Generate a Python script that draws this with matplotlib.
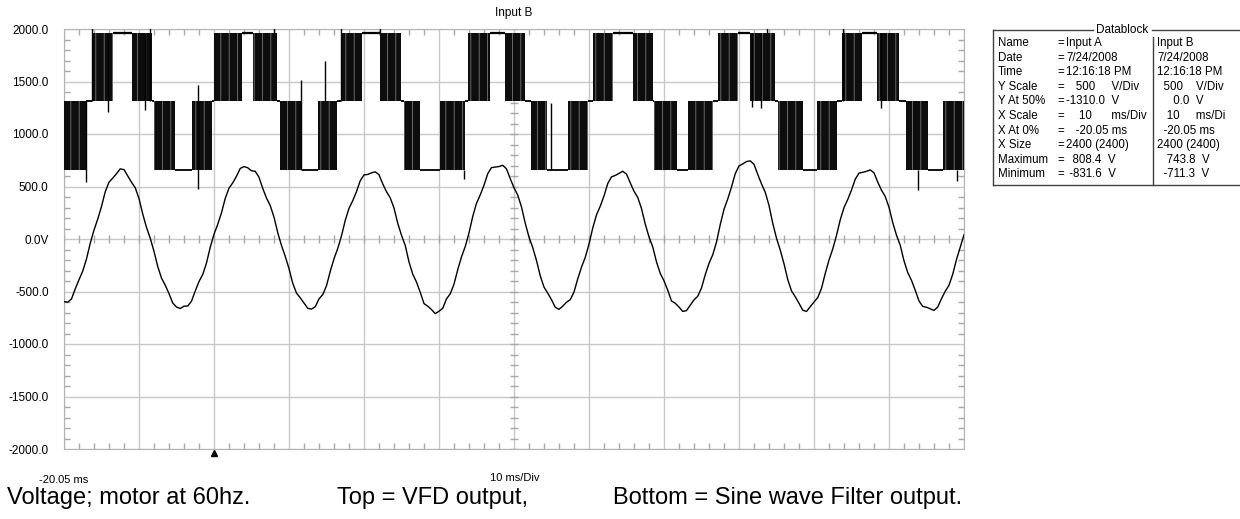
import matplotlib
matplotlib.use("Agg")
import matplotlib.pyplot as plt
import numpy as np
from matplotlib.lines import Line2D

plt.rcParams['font.family'] = ['Liberation Sans', 'DejaVu Sans']
plt.rcParams['hatch.linewidth'] = 0.5

# ---- data ----
# Input A (VFD output, shown with -1310 V offset): segment edges in ms and state per segment
vfd_edges = [-20.05, -17.12, -16.32, -13.52, -10.98, -8.32, -8.05, -5.25,
             -2.98, -0.32, -0.05, 3.68, 5.15, 8.35, 8.75, 11.68,
             13.82, 16.35, 16.88, 19.68, 22.08, 24.88, 25.28, 27.42,
             30.08, 33.42, 33.82, 36.75, 38.75, 41.42, 42.22, 44.35,
             47.15, 49.82, 50.48, 53.15, 55.82, 58.48, 58.62, 61.68,
             63.15, 66.48, 67.15, 69.82, 71.42, 74.75, 75.15, 78.48,
             80.35, 83.02, 83.68, 86.35, 88.35, 91.28, 92.22, 95.15,
             97.15, 99.95]
vfd_state = ["LM", "M", "MH", "H", "HM", "M", "ML", "L",
             "LM", "M", "MH", "H", "HM", "M", "ML", "L",
             "LM", "M", "MH", "H", "HM", "M", "ML", "L",
             "LM", "M", "MH", "H", "HM", "M", "ML", "L",
             "LM", "M", "MH", "H", "HM", "M", "ML", "L",
             "LM", "M", "MH", "H", "HM", "M", "ML", "L",
             "LM", "M", "MH", "H", "HM", "M", "ML", "L",
             "LM"]
vfd_levels = {"L": 655, "M": 1310, "H": 1962}

# isolated switching spikes that stick out of the bands
vfd_spike_t = [-17.12, -16.36, -14.18, -9.25, -8.58, -2.18, 7.95, 11.55, 14.75, 16.88,
               22.08, 33.28, 44.9, 71.68, 72.88, 73.62, 83.82, 88.88, 93.82, 99.02]
vfd_spike_from = [1310, 1310, 1962, 1962, 1310, 1467, 1962, 655, 1310, 1310,
                  1962, 655, 655, 1962, 1962, 1962, 1310, 1962, 655, 655]
vfd_spike_to = [543, 2060, 1210, 1229, 2060, 480, 2060, 1514, 1695, 2060,
                2060, 571, 1300, 1257, 1248, 2060, 2060, 1248, 467, 552]

# Input B (sine wave filter output), one value every 0.5 ms starting at -20.05 ms
filter_v = [-596, -602, -571, -475, -388, -305, -190, -40, 85, 190,
            310, 450, 541, 580, 622, 668, 661, 600, 540, 488,
            385, 238, 110, 8, -118, -262, -372, -440, -520, -610,
            -648, -662, -640, -638, -592, -495, -405, -338, -228, -78,
            45, 140, 250, 388, 484, 535, 598, 672, 690, 678,
            650, 645, 588, 482, 390, 318, 208, 60, -62, -165,
            -282, -422, -515, -560, -610, -660, -668, -645, -570, -530,
            -445, -308, -188, -90, 30, 178, 292, 365, 452, 555,
            610, 615, 630, 640, 612, 525, 450, 392, 295, 150,
            35, -62, -218, -335, -410, -508, -615, -640, -672, -711,
            -688, -660, -570, -522, -430, -292, -170, -72, 58, 215,
            340, 420, 512, 622, 680, 685, 690, 702, 668, 575,
            488, 418, 305, 150, 18, -82, -205, -350, -458, -515,
            -578, -650, -670, -640, -602, -578, -505, -380, -268, -175,
            -48, 105, 230, 312, 410, 528, 592, 605, 625, 645,
            618, 535, 455, 396, 290, 142, 20, -75, -218, -328,
            -398, -488, -590, -612, -648, -690, -682, -630, -580, -545,
            -466, -340, -232, -150, -30, 138, 282, 382, 495, 622,
            696, 715, 738, 744, 712, 615, 525, 445, 320, 150,
            8, -105, -236, -386, -494, -550, -612, -678, -690, -645,
            -600, -558, -470, -328, -200, -95, 35, 182, 300, 376,
            466, 570, 628, 635, 645, 658, 630, 542, 465, 404,
            302, 156, 36, -60, -208, -320, -394, -488, -590, -642,
            -650, -665, -680, -648, -568, -498, -440, -335, -195, -78,
            40]
filter_t = np.arange(len(filter_v)) * 0.5 - 20.05

t_start = -20.05
ms_per_div = 10
n_xdiv = 12
trigger_t = -0.05

ytick_vals = [2000, 1500, 1000, 500, 0, -500, -1000, -1500, -2000]
ytick_txt = ["2000.0", "1500.0", "1000.0", "500.0", "0.0V",
             "-500.0", "-1000.0", "-1500.0", "-2000.0"]

db_labels = ["Name", "Date", "Time", "Y Scale", "Y At 50%", "X Scale",
             "X At 0%", "X Size", "Maximum", "Minimum"]
db_a = ["Input A", "7/24/2008", "12:16:18 PM", "   500     V/Div", "-1310.0  V",
        "    10      ms/Div", "   -20.05 ms", "2400 (2400)", "  808.4  V", " -831.6  V"]
db_b = ["Input B", "7/24/2008", "12:16:18 PM", "  500    V/Div", "     0.0  V",
        "   10     ms/Di", "  -20.05 ms", "2400 (2400)", "   743.8  V", "  -711.3  V"]

W, H = 1240, 519
GRID = '#c8c8c8'
TICK = '#a8a8a8'


def fx(px):
    return px / W


def fy(py):
    return 1 - py / H


fig = plt.figure(figsize=(W / 100, H / 100), dpi=100)
ax = fig.add_axes([fx(64), fy(449), 900 / W, 420 / H])

t_end = t_start + ms_per_div * n_xdiv
ax.set_xlim(t_start, t_end)
ax.set_ylim(-2000, 2000)

grid_x = t_start + ms_per_div * np.arange(n_xdiv + 1)
ax.set_xticks(grid_x)
ax.set_xticklabels([])
ax.set_xticks(np.arange(t_start, t_end + 0.01, 2.0), minor=True)
ax.set_yticks(ytick_vals)
ax.set_yticklabels(ytick_txt, fontsize=8.5)
ax.set_yticks(np.arange(-2000, 2001, 100), minor=True)
ax.tick_params(which='major', length=0, pad=11)
ax.tick_params(which='minor', direction='in', length=4, color=TICK,
               top=True, right=True, width=1)
ax.grid(True, which='major', color=GRID, lw=1)
ax.set_axisbelow(True)
for s in ax.spines.values():
    s.set_color('#b4b4b4')

# centre cross tick marks
center_t = grid_x[n_xdiv // 2]
xm = np.arange(t_start, t_end + 0.01, 2.0)
ym = np.arange(-2000, 2001, 100)
ax.plot(xm, np.zeros_like(xm), ls='none', marker='|', ms=6, mew=1, color=TICK, zorder=1)
ax.plot(np.full_like(ym, center_t, dtype=float), ym, ls='none', marker='_', ms=6,
        mew=1, color=TICK, zorder=1)

# VFD output: steady levels as lines, PWM switching bands as dense fills
for i, st in enumerate(vfd_state):
    t0, t1 = vfd_edges[i], vfd_edges[i + 1]
    if len(st) == 1:
        lv = vfd_levels[st]
        ax.hlines(lv, t0, t1, color='black', lw=1.6 if st == "H" else 1.3, zorder=3)
    else:
        lo = min(vfd_levels[st[0]], vfd_levels[st[1]])
        hi = max(vfd_levels[st[0]], vfd_levels[st[1]])
        ax.fill_between([t0, t1], lo, hi, facecolor='#0d0d0d', edgecolor='#8c8c8c',
                        hatch='||', lw=0, zorder=3)
ax.vlines(vfd_spike_t, vfd_spike_from, vfd_spike_to, color='black', lw=1, zorder=3)

# sine filter output
ax.plot(filter_t, filter_v, color='black', lw=1.0, zorder=4)

# trigger marker
ax.plot([trigger_t], [-2035], marker='^', ms=4, color='black', clip_on=False, zorder=5)

# texts around the plot
fig.text(fx(514), fy(13), "Input B", ha='center', va='center', fontsize=8.5)
fig.text(fx(64), fy(480), "-20.05 ms", ha='center', va='center', fontsize=8)
fig.text(fx(515), fy(478), "10 ms/Div", ha='center', va='center', fontsize=8)
fig.text(fx(7), fy(498), "Voltage; motor at 60hz.", ha='left', va='center', fontsize=17)
fig.text(fx(337), fy(498), "Top = VFD output,", ha='left', va='center', fontsize=17)
fig.text(fx(613), fy(498), "Bottom = Sine wave Filter output.", ha='left', va='center',
         fontsize=17)

# datablock
box_top, box_bot, box_left = 30, 185, 993
lc = '#404040'
fig.add_artist(Line2D([fx(box_left), fx(box_left)], [fy(box_top), fy(box_bot)], color=lc, lw=1))
fig.add_artist(Line2D([fx(box_left), fx(1245)], [fy(box_bot), fy(box_bot)], color=lc, lw=1))
fig.add_artist(Line2D([fx(box_left), fx(1093)], [fy(box_top), fy(box_top)], color=lc, lw=1))
fig.add_artist(Line2D([fx(1152), fx(1245)], [fy(box_top), fy(box_top)], color=lc, lw=1))
fig.add_artist(Line2D([fx(1153), fx(1153)], [fy(37), fy(box_bot)], color=lc, lw=1))
fig.text(fx(1122), fy(box_top), "Datablock", ha='center', va='center', fontsize=8.5)
for i in range(len(db_labels)):
    yy = fy(43 + i * 14.6)
    fig.text(fx(998), yy, db_labels[i], ha='left', va='center', fontsize=8.3)
    fig.text(fx(1057), yy, "=", ha='left', va='center', fontsize=8.3)
    fig.text(fx(1066), yy, db_a[i], ha='left', va='center', fontsize=8.3)
    fig.text(fx(1157), yy, db_b[i], ha='left', va='center', fontsize=8.3)

fig.savefig("out.png", dpi=100)
